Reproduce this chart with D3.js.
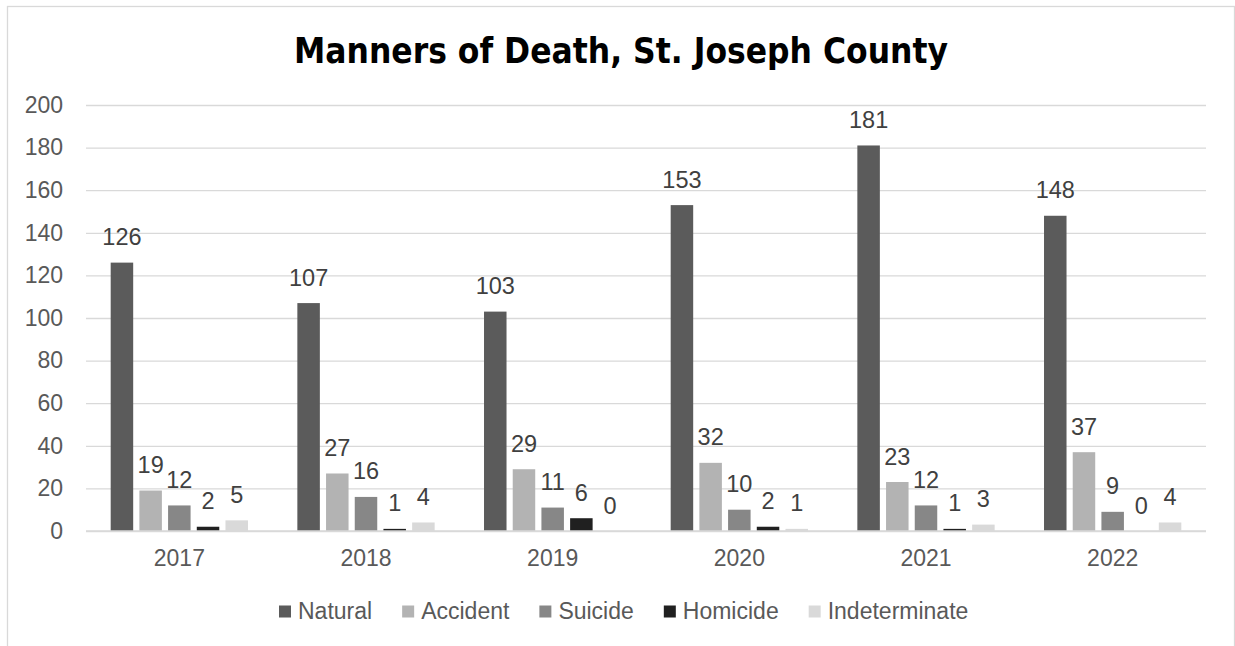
<!DOCTYPE html>
<html>
<head>
<meta charset="utf-8">
<script src="https://cdn.jsdelivr.net/npm/d3@7"></script>
<style>
  html, body { margin: 0; padding: 0; background: #fff; }
  svg { display: block; }
</style>
</head>
<body>
<svg id="chart" width="1235" height="646"></svg>
<script>
const years = ["2017", "2018", "2019", "2020", "2021", "2022"];
const seriesNames = ["Natural", "Accident", "Suicide", "Homicide", "Indeterminate"];
const natural = [126, 107, 103, 153, 181, 148];
const accident = [19, 27, 29, 32, 23, 37];
const suicide = [12, 16, 11, 10, 12, 9];
const homicide = [2, 1, 6, 2, 1, 0];
const indeterminate = [5, 4, 0, 1, 3, 4];
const yTicks = [0, 20, 40, 60, 80, 100, 120, 140, 160, 180, 200];
const colors = ["#5b5b5b", "#b3b3b3", "#878787", "#202020", "#d9d9d9"];
const titleText = "Manners of Death, St. Joseph County";

const seriesValues = [natural, accident, suicide, homicide, indeterminate];

const svg = d3.select("#chart");
const plot = { left: 86, right: 1206, top: 105, bottom: 531 };
const font = "'Liberation Sans', Arial, sans-serif";

// frame
svg.append("rect").attr("x", 7.5).attr("y", 6.5).attr("width", 1227).attr("height", 700)
  .attr("fill", "#fff").attr("stroke", "#d9d9d9").attr("stroke-width", 1.3);

// title
svg.append("text").attr("x", 294).attr("y", 63)
  .attr("font-family", "'DejaVu Sans', sans-serif").attr("font-weight", "bold")
  .attr("font-size", 35).attr("fill", "#000")
  .attr("textLength", 654).attr("lengthAdjust", "spacingAndGlyphs")
  .text(titleText);

const y = d3.scaleLinear().domain([0, 200]).range([plot.bottom, plot.top]);
const x0 = d3.scaleBand().domain(years).range([plot.left, plot.right])
  .paddingInner(0.2645).paddingOuter(0.13225);
const x1 = d3.scaleBand().domain(seriesNames).range([0, x0.bandwidth()])
  .paddingInner(0.216).paddingOuter(0);

// gridlines
const yAxis = d3.axisLeft(y).tickValues(yTicks).tickSize(-(plot.right - plot.left)).tickPadding(23);
const gy = svg.append("g").attr("transform", `translate(${plot.left},0)`).call(yAxis);
gy.select(".domain").remove();
gy.selectAll(".tick line").attr("stroke", "#d9d9d9").attr("stroke-width", 1.3);
gy.selectAll(".tick text").attr("font-family", font).attr("font-size", 23)
  .attr("fill", "#595959");

// bars
const groups = svg.append("g").selectAll("g").data(years).join("g")
  .attr("transform", d => `translate(${x0(d)},0)`);

groups.each(function(yr, i) {
  const g = d3.select(this);
  seriesNames.forEach((s, j) => {
    const v = seriesValues[j][i];
    g.append("rect")
      .attr("x", x1(s)).attr("width", x1.bandwidth())
      .attr("y", y(v)).attr("height", y(0) - y(v))
      .attr("fill", colors[j]);
    g.append("text")
      .attr("x", x1(s) + x1.bandwidth() / 2)
      .attr("y", y(v) - 17.5)
      .attr("text-anchor", "middle")
      .attr("font-family", font).attr("font-size", 23.5).attr("fill", "#404040")
      .text(v);
  });
});

// x axis baseline
const xAxis = d3.axisBottom(x0).tickSize(0).tickPadding(19);
const gx = svg.append("g").attr("transform", `translate(0,${plot.bottom})`).call(xAxis);
gx.select(".domain").attr("stroke", "#d9d9d9").attr("stroke-width", 1.3)
  .attr("d", `M${plot.left},0H${plot.right}`);
gx.selectAll(".tick text").attr("font-family", font).attr("font-size", 23)
  .attr("fill", "#595959");

// legend
const legend = svg.append("g");
let lx = 279;
seriesNames.forEach((s, j) => {
  legend.append("rect").attr("x", lx).attr("y", 605.5).attr("width", 12).attr("height", 12)
    .attr("fill", colors[j]);
  const t = legend.append("text").attr("x", lx + 19).attr("y", 619)
    .attr("font-family", font)
    .attr("font-size", 23).attr("fill", "#595959").text(s);
  const w = t.node().getComputedTextLength();
  lx = lx + 19 + w + 30;
});
</script>
</body>
</html>
